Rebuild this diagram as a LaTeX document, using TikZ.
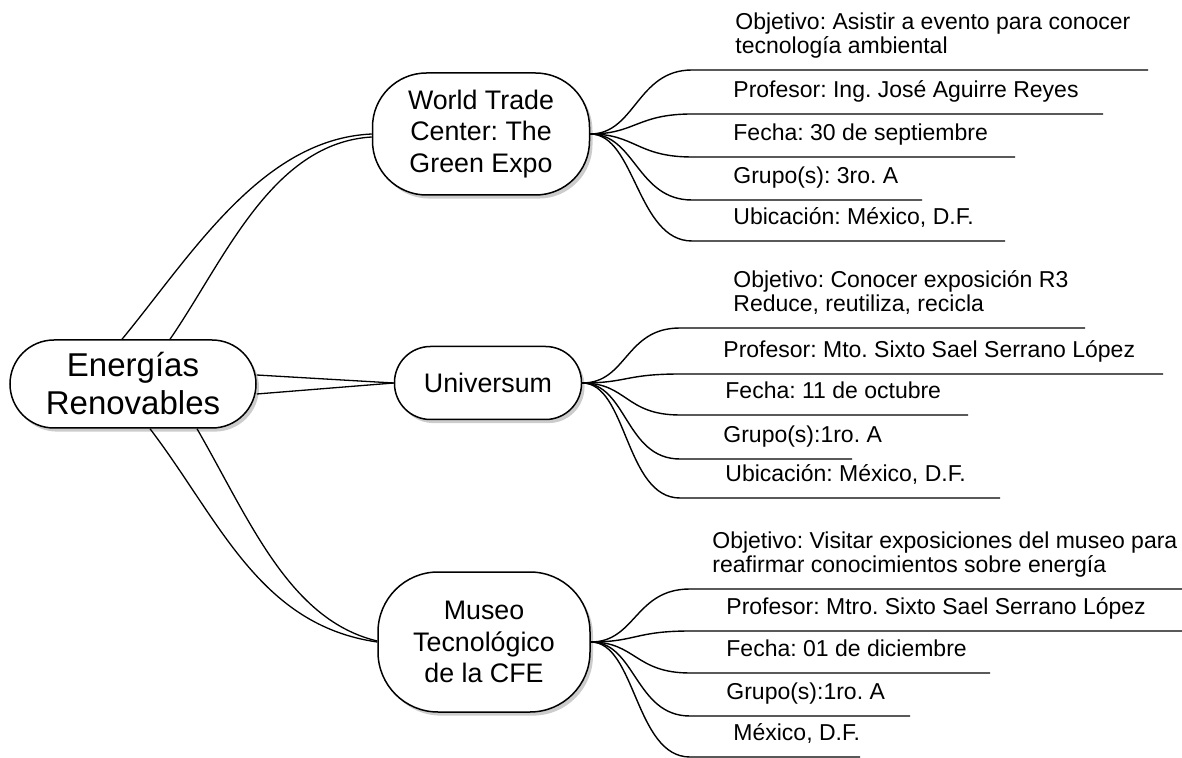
\documentclass[tikz,border=0pt]{standalone}
\usepackage{fontspec}
\setmainfont{Liberation Sans}
\usetikzlibrary{shadows,calc}

\newcommand*{\infoFont}{\fontsize{11.5}{12}\selectfont}

\tikzset{
	topicbox/.style={draw, fill=white, line width=0.75pt, align=center, inner sep=0pt,
		drop shadow={opacity=0.4, shadow xshift=1.5pt, shadow yshift=-1.8pt}},
	rootbox/.style={topicbox, minimum width=123pt, minimum height=44pt, rounded corners=22pt,
		font=\fontsize{16.5}{19}\selectfont},
	eventbox/.style={topicbox, font=\fontsize{13.4}{15.7}\selectfont},
	branch/.style={line width=0.65pt},
	twig/.style={line width=0.7pt},
	infotext/.style={anchor=north west, inner sep=0pt, align=left, font=\infoFont},
}

\begin{document}
\frenchspacing
\begin{tikzpicture}[x=0.5pt,y=-0.5pt]
	\useasboundingbox (0,0) rectangle (1182,758);

	% temas
	\node[rootbox] (root) at (133,384) {Energías\\Renovables};
	\node[eventbox, minimum width=108.5pt, minimum height=61pt, rounded corners=27pt] (wtc) at (481,134) {World Trade\\Center: The\\Green Expo};
	\node[eventbox, minimum width=93.5pt, minimum height=36.5pt, rounded corners=18pt] (univ) at (488,383) {Universum};
	\node[eventbox, minimum width=106pt, minimum height=70pt, rounded corners=30pt] (museo) at (484,642) {Museo\\Tecnológico\\de la CFE};

	% ramas desde el centro
	\draw[branch] ($(root.north)+(-11,0)$) .. controls +(70,-85) and +(-110,5) .. (wtc.west);
	\draw[branch] ($(root.north)+(37,0)$) .. controls +(55,-80) and +(-100,6) .. ($(wtc.west)+(0,3)$);
	\draw[branch] ($(root.east)+(0,-9)$) -- (univ.west);
	\draw[branch] ($(root.east)+(0,10)$) -- (univ.west);
	\draw[branch] ($(root.south)+(17,0)$) .. controls +(70,92) and +(-118,-17) .. (museo.west);
	\draw[branch] ($(root.south)+(64,0)$) .. controls +(53,92) and +(-88,-21) .. ($(museo.west)+(0,-1)$);

	% World Trade Center
	\foreach \y/\xe/\xt/\dy/\txt [count=\i] in {
		70/1148/735/58/{Objetivo: Asistir a evento para conocer\\tecnología ambiental},
		114/1103/733/34/{Profesor: Ing. José Aguirre Reyes},
		157/1015/733/34/{Fecha: 30 de septiembre},
		200/922/733/34/{Grupo(s): 3ro. A},
		241/1005/733/34/{Ubicación: México, D.F.}} {
		\coordinate (wtc-a\i) at (692,\y);
		\coordinate (wtc-b\i) at (\xe,\y);
		\node[infotext] (wtc-t\i) at (\xt,\y-\dy) {\txt};
		\draw[twig] (wtc.east) .. controls +(45,0) and +(-55,0) .. (wtc-a\i) -- (wtc-b\i);
	}

	% Universum
	\foreach \y/\xe/\xt/\dy/\txt [count=\i] in {
		328/1085/733/58/{Objetivo: Conocer exposición R3\\Reduce, reutiliza, recicla},
		374/1163/723/34/{Profesor: Mto. Sixto Sael Serrano López},
		415/968/725/34/{Fecha: 11 de octubre},
		459/852/723/34/{Grupo(s):1ro. A},
		498/1000/725/34/{Ubicación: México, D.F.}} {
		\coordinate (univ-a\i) at (680,\y);
		\coordinate (univ-b\i) at (\xe,\y);
		\node[infotext] (univ-t\i) at (\xt,\y-\dy) {\txt};
		\draw[twig] (univ.east) .. controls +(45,0) and +(-55,0) .. (univ-a\i) -- (univ-b\i);
	}

	% Museo Tecnologico
	\foreach \y/\xe/\xt/\dy/\txt [count=\i] in {
		589/1182/712/58/{Objetivo: Visitar exposiciones del museo para\\reafirmar conocimientos sobre energía},
		631/1182/726/34/{Profesor: Mtro. Sixto Sael Serrano López},
		673/990/726/34/{Fecha: 01 de diciembre},
		716/910/726/34/{Grupo(s):1ro. A},
		757/860/733/34/{México, D.F.}} {
		\coordinate (museo-a\i) at (690,\y);
		\coordinate (museo-b\i) at (\xe,\y);
		\node[infotext] (museo-t\i) at (\xt,\y-\dy) {\txt};
		\draw[twig] (museo.east) .. controls +(45,0) and +(-55,0) .. (museo-a\i) -- (museo-b\i);
	}

\end{tikzpicture}
\end{document}
